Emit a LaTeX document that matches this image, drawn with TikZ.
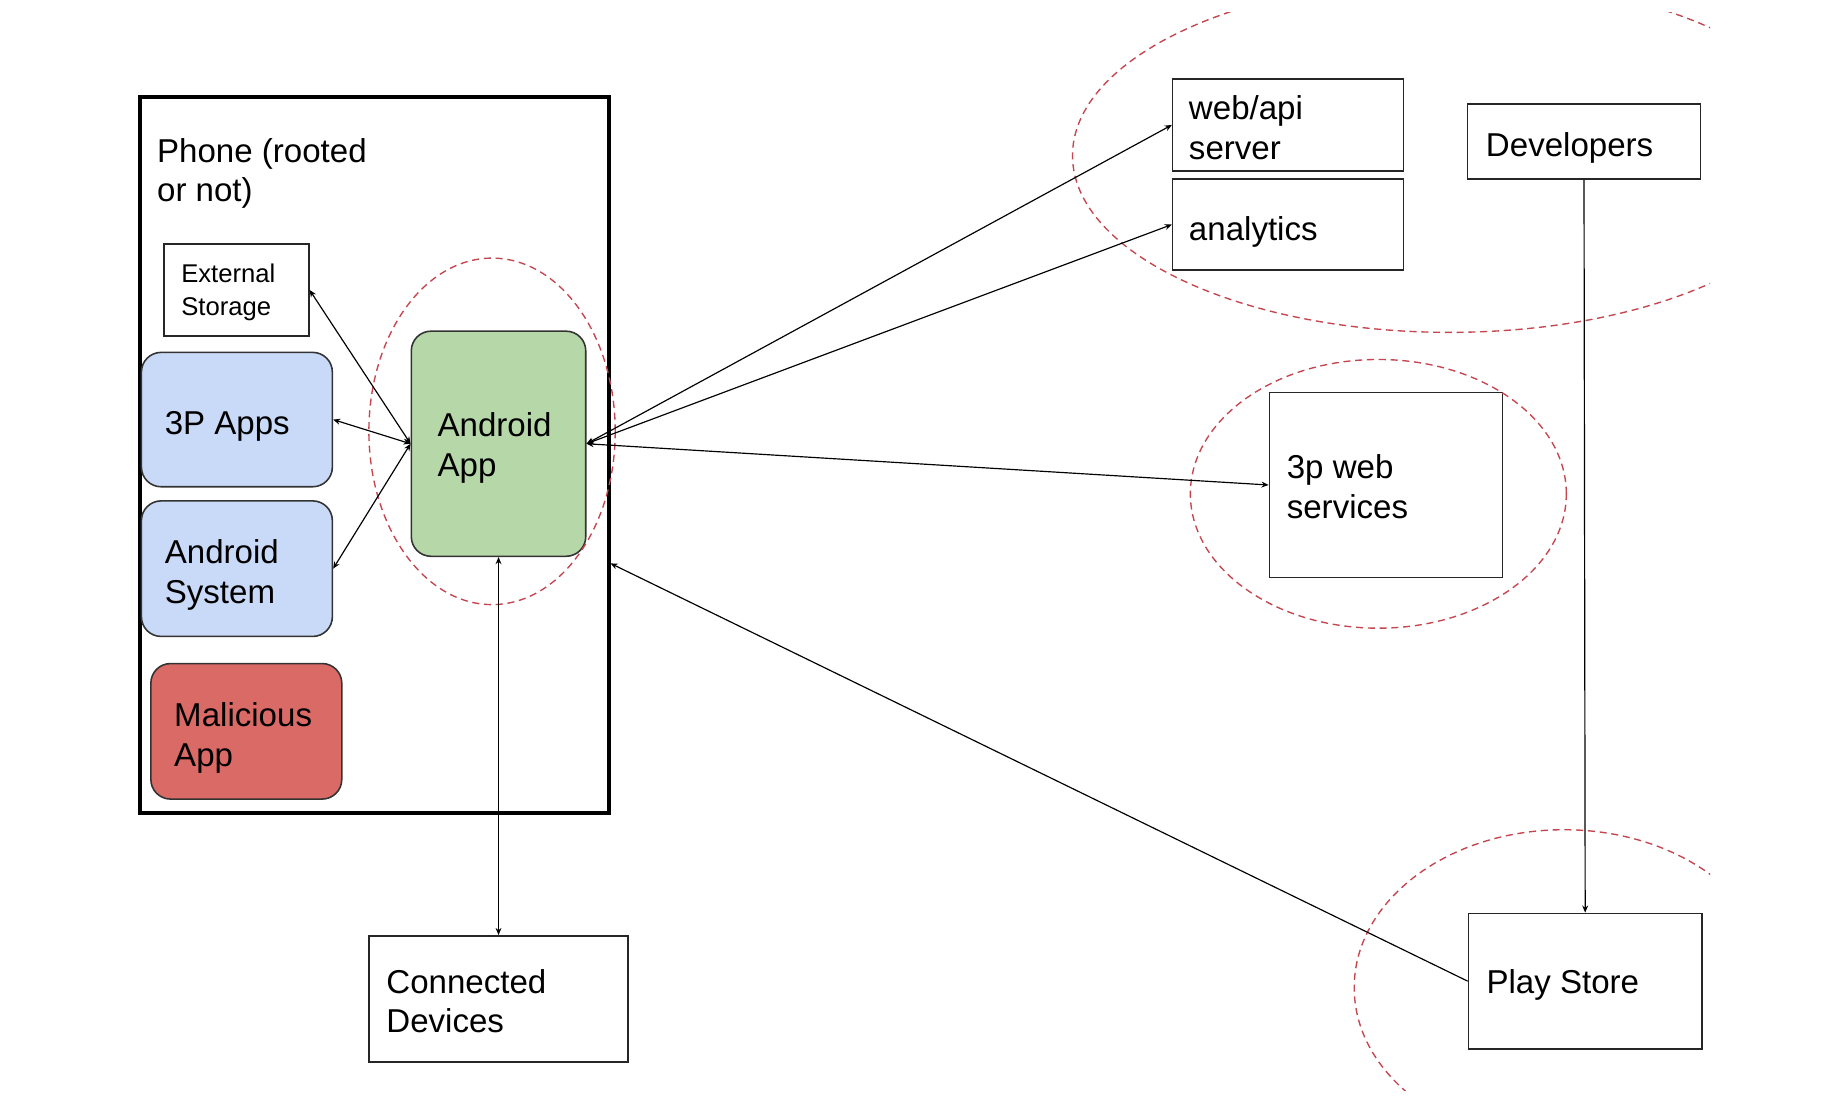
\documentclass[tikz,border=0pt]{standalone}
\usepackage{fontspec}
\setmainfont{Liberation Sans}
\usetikzlibrary{arrows.meta,fit}
\definecolor{appblue}{HTML}{C9DAF8}
\definecolor{appgreen}{HTML}{B6D7A8}
\definecolor{appred}{HTML}{DA6A66}
\definecolor{dashred}{HTML}{C4474F}
\begin{document}
\begin{tikzpicture}[x=0.6bp,y=-0.6bp,
  box/.style={draw=black!85, line width=0.8bp, inner sep=0pt},
  rbox/.style={box, rounded corners=10bp, draw=black!80},
  txt/.style={anchor=north west, inner sep=0pt, align=left, font=\fontsize{16.9}{20.2}\selectfont},
  stxt/.style={txt, font=\fontsize{13.1}{16.8}\selectfont},
  conn/.style={line width=0.6bp, {Stealth[length=3.6bp,width=3bp]}-{Stealth[length=3.6bp,width=3bp]}},
  oneway/.style={line width=0.6bp, -{Stealth[length=3.6bp,width=3bp]}},
  zone/.style={draw=dashred, line width=0.7bp, dash pattern=on 3.6bp off 2.4bp},
]
\useasboundingbox (0,0) rectangle (1568,932);

% phone container
\node[box, draw=black, line width=2.1bp, fit={(119,82) (517,690)}] (phone) {};
\node[txt] (phoneT) at (133,117) {Phone (rooted\\or not)};

% inner boxes
\node[box, fit={(139,207) (262,285)}] (ext) {};
\node[stxt] (extT) at (153.5,224) {External\\Storage};

\node[rbox, fill=appblue, fit={(120,299) (282,413)}] (tp) {};
\node[txt] (tpT) at (139.5,348.5) {3P Apps};

\node[rbox, fill=appblue, fit={(120,425) (282,540)}] (sys) {};
\node[txt] (sysT) at (139.5,457.5) {Android\\System};

\node[rbox, fill=appred, fit={(128,563) (290,678)}] (mal) {};
\node[txt] (malT) at (147.5,596) {Malicious\\App};

\node[rbox, fill=appgreen, fit={(349,281) (497,472)}] (app) {};
\node[txt] (appT) at (371,350) {Android\\App};

% outside boxes
\node[box, fit={(313,794) (533,901)}] (cd) {};
\node[txt] (cdT) at (327.5,822) {Connected\\Devices};

\node[box, fit={(995,67) (1191,145)}] (web) {};
\node[txt] (webT) at (1008.5,81) {web/api\\server};

\node[box, fit={(995,152) (1191,229)}] (ana) {};
\node[txt] (anaT) at (1008.5,183) {analytics};

\node[box, fit={(1245,88) (1443,152)}] (dev) {};
\node[txt] (devT) at (1260.5,112) {Developers};

\node[box, fit={(1077,333) (1275,490)}] (tpw) {};
\node[txt] (tpwT) at (1091.5,385.5) {3p web\\services};

\node[box, fit={(1246,775) (1444,890)}] (ps) {};
\node[txt] (psT) at (1261,822) {Play Store};

% dashed zones
\draw[zone] (417.5,366) ellipse [x radius=62.7bp, y radius=88.2bp];
\draw[zone] (1169.5,419) ellipse [x radius=95.7bp, y radius=68.4bp];
\begin{scope}
  \clip (0,11) rectangle (1451,925);
  \draw[zone] (1230,132) ellipse [x radius=192bp, y radius=90bp];
  \draw[zone] (1327,838) ellipse [x radius=106.8bp, y radius=80.4bp];
\end{scope}

% connectors
\draw[conn] (ext.east) -- (app.west);
\draw[conn] (tp.east) -- (app.west);
\draw[conn] (sys.east) -- (app.west);
\draw[conn] (app.east) -- (web.west);
\draw[conn] (app.east) -- (ana.west);
\draw[conn] (app.east) -- (tpw.west);
\draw[conn] (app.south) -- (cd.north);
\draw[oneway] (dev.south) -- (ps.north);
\coordinate (phin) at (518,478);
\draw[oneway] (ps.west) -- (phin);
\end{tikzpicture}
\end{document}
